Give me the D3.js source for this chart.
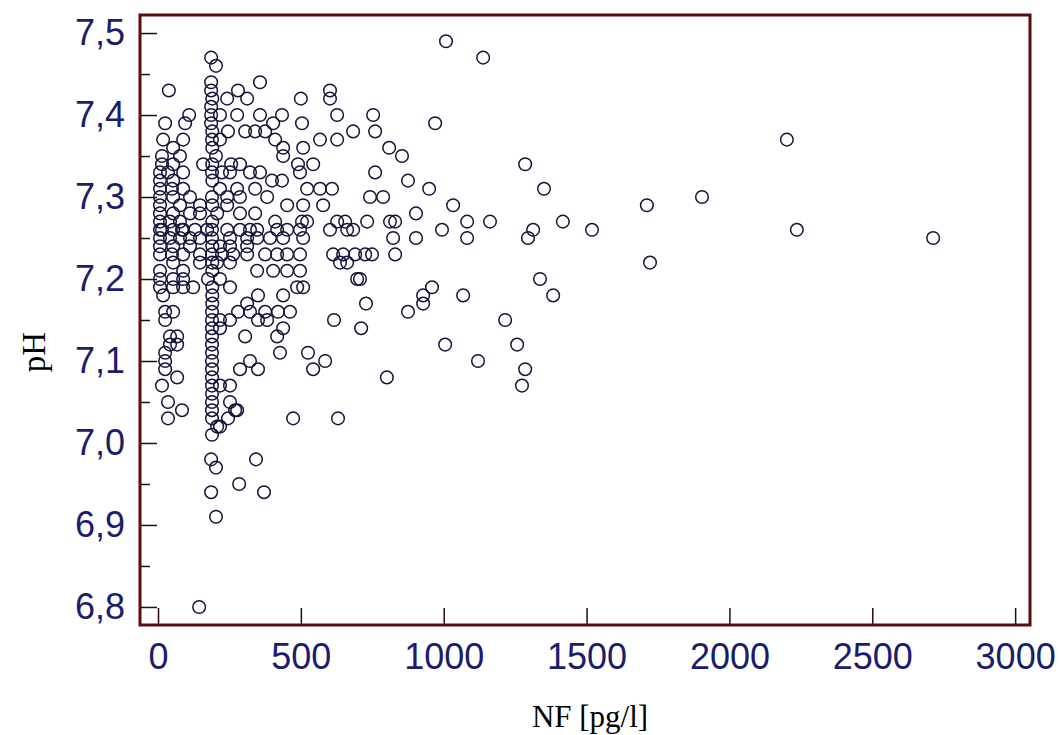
<!DOCTYPE html>
<html>
<head>
<meta charset="utf-8">
<script src="https://cdn.jsdelivr.net/npm/d3@7"></script>
<style>
  body { margin: 0; background: #fff; }
</style>
</head>
<body>
<div id="chart"></div>
<script>
var width = 1059, height = 735

// pH levels (measured to 0.01) and the NF values [pg/l] read at each level
const phLevels = [7.49, 7.47, 7.46, 7.44, 7.43, 7.42, 7.41, 7.40, 7.39, 7.38,
  7.37, 7.36, 7.35, 7.34, 7.33, 7.32, 7.31, 7.30, 7.29, 7.28,
  7.27, 7.26, 7.25, 7.24, 7.23, 7.22, 7.21, 7.20, 7.19, 7.18,
  7.17, 7.16, 7.15, 7.14, 7.13, 7.12, 7.11, 7.10, 7.09, 7.08,
  7.07, 7.06, 7.05, 7.04, 7.03, 7.02, 7.01, 6.98, 6.97, 6.95,
  6.94, 6.91, 6.80]

const nfAtLevel = [
  [1008],
  [1138, 186],
  [203],
  [186, 357],
  [38, 186, 280, 602],
  [190, 242, 312, 500, 602],
  [186],
  [109, 186, 217, 277, 357, 434, 627, 753],
  [25, 95, 186, 403, 504, 970],
  [190, 245, 305, 340, 375, 683, 760],
  [18, 88, 189, 217, 410, 567, 627, 2201],
  [53, 190, 438, 508, 809],
  [14, 77, 203, 438, 854],
  [14, 53, 158, 190, 256, 287, 490, 543, 1285],
  [7, 35, 88, 189, 224, 252, 322, 357, 497, 760],
  [7, 53, 190, 399, 434, 875],
  [7, 49, 88, 217, 277, 340, 522, 567, 609, 949, 1351],
  [7, 53, 112, 189, 242, 287, 382, 742, 788, 1904],
  [7, 77, 147, 190, 242, 452, 508, 578, 1033, 1711],
  [7, 53, 112, 147, 207, 287, 340, 903],
  [7, 42, 77, 190, 410, 504, 522, 627, 655, 732, 812, 830, 1082, 1162, 1417],
  [7, 14, 53, 84, 88, 130, 172, 189, 242, 287, 322, 347, 417, 452, 497, 602, 662, 683, 994, 1313, 1519, 2236],
  [7, 42, 77, 112, 147, 189, 252, 312, 347, 392, 438, 508, 823, 903, 1082, 1295, 2713],
  [7, 53, 112, 190, 217, 252, 312],
  [7, 49, 88, 147, 189, 224, 263, 312, 375, 417, 452, 497, 613, 648, 690, 725, 749, 830],
  [53, 147, 190, 207, 252, 637, 662, 1722],
  [7, 88, 190, 347, 403, 452, 497],
  [7, 53, 88, 175, 217, 697, 707, 1337],
  [7, 53, 88, 123, 190, 252, 487, 508, 959],
  [18, 190, 350, 438, 928, 1068, 1383],
  [190, 312, 728, 928],
  [25, 53, 189, 280, 322, 375, 420, 462, 875],
  [25, 189, 217, 252, 350, 382, 616, 1215],
  [189, 217, 438, 711],
  [42, 67, 189, 305, 417],
  [42, 67, 189, 1005, 1257],
  [25, 189, 427, 525],
  [25, 189, 322, 585, 1120],
  [25, 189, 287, 350, 543, 1285],
  [67, 189, 801],
  [14, 189, 217, 252, 1274],
  [189],
  [35, 189, 252],
  [84, 189, 270, 277],
  [35, 189, 245, 473, 630],
  [207, 217],
  [189],
  [186, 343],
  [203],
  [284],
  [186, 371],
  [203],
  [144]
]

const xTicks = [0, 500, 1000, 1500, 2000, 2500, 3000]
const yTicks = [6.8, 6.9, 7.0, 7.1, 7.2, 7.3, 7.4, 7.5]
const yMinorTicks = [6.85, 6.95, 7.05, 7.15, 7.25, 7.35, 7.45]

const points = []
phLevels.forEach((p, i) => nfAtLevel[i].forEach(v => points.push({ nf: v, ph: p })))

const frame = { left: 140, right: 1030, top: 15, bottom: 625 }
const frameColor = '#5a0c0c'
const labelColor = '#1c1c6c'

const svg = d3.select('#chart')
  .append('svg')
  .attr('width', width)
  .attr('height', height)
  .style('background', '#fff')

const x = d3.scaleLinear().domain([-63, 3052]).range([frame.left, frame.right])
const y = d3.scaleLinear().domain([6.778, 7.522]).range([frame.bottom, frame.top])

const comma = d3.formatLocale({ decimal: ',', thousands: '', grouping: [3], currency: ['', ''] })

// points
svg.append('g')
  .selectAll('circle')
  .data(points)
  .join('circle')
  .attr('cx', d => x(d.nf))
  .attr('cy', d => y(d.ph))
  .attr('r', 6.3)
  .attr('fill', 'none')
  .attr('stroke', '#14143a')
  .attr('stroke-width', 1.5)

// y axis
const yAxis = svg.append('g')
  .attr('transform', `translate(${frame.left},0)`)
  .call(d3.axisLeft(y).tickValues(yTicks).tickFormat(comma.format('.1f'))
    .tickSizeInner(-17).tickSizeOuter(0).tickPadding(15))
yAxis.select('.domain').remove()

const yMinor = svg.append('g')
  .attr('transform', `translate(${frame.left},0)`)
  .call(d3.axisLeft(y).tickValues(yMinorTicks).tickFormat('')
    .tickSizeInner(-10).tickSizeOuter(0))
yMinor.select('.domain').remove()

// x axis
const xAxis = svg.append('g')
  .attr('transform', `translate(0,${frame.bottom})`)
  .call(d3.axisBottom(x).tickValues(xTicks).tickFormat(d3.format('d'))
    .tickSizeInner(-17).tickSizeOuter(0).tickPadding(18))
xAxis.select('.domain').remove()

svg.selectAll('.tick line')
  .attr('stroke', '#2a0a0a')
  .attr('stroke-width', 1.5)

svg.selectAll('.tick text')
  .attr('fill', labelColor)
  .style('font-family', '"Liberation Sans", Arial, sans-serif')
  .style('font-size', '36px')

// frame
svg.append('rect')
  .attr('x', frame.left)
  .attr('y', frame.top)
  .attr('width', frame.right - frame.left)
  .attr('height', frame.bottom - frame.top)
  .attr('fill', 'none')
  .attr('stroke', frameColor)
  .attr('stroke-width', 3)

// axis titles
svg.append('text')
  .attr('x', 590)
  .attr('y', 727)
  .attr('text-anchor', 'middle')
  .style('font-family', '"Liberation Serif", "Times New Roman", serif')
  .style('font-size', '31px')
  .text('NF [pg/l]')

svg.append('text')
  .attr('transform', 'translate(45,352) rotate(-90)')
  .attr('text-anchor', 'middle')
  .style('font-family', '"Liberation Serif", "Times New Roman", serif')
  .style('font-size', '33px')
  .text('pH')
</script>
</body>
</html>
